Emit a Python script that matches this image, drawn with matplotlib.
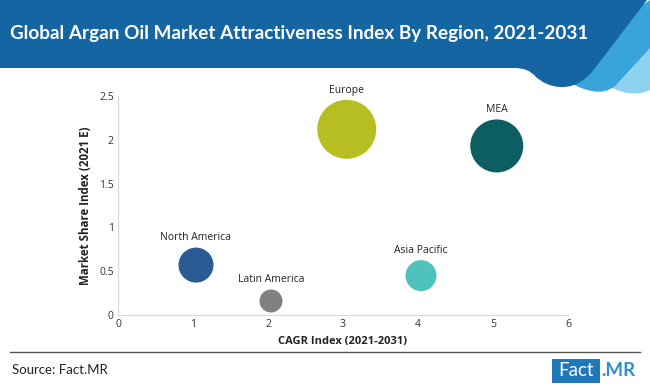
import matplotlib.pyplot as plt
from matplotlib.patches import Rectangle, PathPatch
from matplotlib.path import Path

regions = ['North America', 'Latin America', 'Europe', 'Asia Pacific', 'MEA']
cagr_index = [1.04, 2.04, 3.05, 4.04, 5.05]
share_index = [0.57, 0.16, 2.12, 0.45, 1.93]
bubble_size = [35, 23, 59, 31, 53]
colors = ['#2A5B94', '#808080', '#B6BE21', '#4FC2BD', '#0D5E62']

x_ticks = [0, 1, 2, 3, 4, 5, 6]
y_ticks = [0, 0.5, 1, 1.5, 2, 2.5]
y_tick_labels = ['0', '0.5', '1', '1.5', '2', '2.5']

plt.rcParams['font.family'] = ['Open Sans', 'DejaVu Sans']

W, H = 650, 389
fig = plt.figure(figsize=(W / 100, H / 100), dpi=100)


def shape(ax, pts, codes, color):
    ax.add_patch(PathPatch(Path(pts, codes), color=color, lw=0))


M, L, C, Z = Path.MOVETO, Path.LINETO, Path.CURVE3, Path.CLOSEPOLY

# header decoration, drawn in pixel coords
bg = fig.add_axes([0, 0, 1, 1])
bg.set_xlim(0, W)
bg.set_ylim(H, 0)
bg.axis('off')
shape(bg, [(600, 80), (650, 30), (650, 90), (640, 95), (627, 93), (616, 91), (608, 85), (600, 80)],
      [M, L, L, C, C, C, C, Z], '#8ED2F0')
shape(bg, [(560, 60), (650, 0), (650, 48), (615, 86), (605, 94), (592, 91), (580, 89), (570, 82), (560, 60)],
      [M, L, L, L, C, C, C, C, Z], '#38A4DA')
shape(bg, [(0, 0), (647, 0), (592, 72), (578, 88), (560, 87), (545, 86), (535, 76), (528, 68),
           (515, 68), (0, 68), (0, 0)],
      [M, L, L, C, C, C, C, C, C, L, Z], '#1565A3')
bg.text(10, 33, 'Global Argan Oil Market Attractiveness Index By Region, 2021-2031',
        color='white', fontsize=13.6, fontweight='bold', va='center', ha='left', family='Lato')
bg.plot([10, 640], [352, 352], color='#555555', lw=1)
bg.text(12, 370, 'Source: Fact.MR', fontsize=9.5, color='#222222', va='center', family='Lato')
bg.add_patch(Rectangle((552, 359), 48, 24, color='#1F78B8', lw=0))
bg.text(576, 371, 'Fact', color='white', fontsize=13.5, va='center', ha='center', family='Lato')
bg.text(601, 371, '.MR', color='#2E90CE', fontsize=13.5, fontweight='bold', va='center', ha='left',
        family='Lato')

ax = fig.add_axes([118 / W, 1 - 315 / H, 450 / W, 219 / H])
sizes = [(d * 0.72) ** 2 for d in bubble_size]
ax.scatter(cagr_index, share_index, s=sizes, c=colors, edgecolors='none', zorder=3)
for name, x, y, d in zip(regions, cagr_index, share_index, bubble_size):
    ax.annotate(name, (x, y), xytext=(0, d * 0.36 + 7), textcoords='offset points',
                ha='center', va='center', fontsize=7.5, color='#222222')

ax.set_xlim(0, 6)
ax.set_ylim(0, 2.5)
ax.set_xticks(x_ticks)
ax.set_yticks(y_ticks)
ax.set_yticklabels(y_tick_labels)
ax.tick_params(length=0, labelsize=7.5, labelcolor='#333333', pad=3)
for s in ['top', 'right']:
    ax.spines[s].set_visible(False)
for s in ['left', 'bottom']:
    ax.spines[s].set_color('#D9D9D9')
ax.set_xlabel('CAGR Index (2021-2031)', fontsize=8, fontweight='bold', color='#222222', labelpad=4)
ax.set_ylabel('Market Share Index (2021 E)', fontsize=8.3, fontweight='bold', color='#222222', labelpad=5)

fig.savefig('out.png', dpi=100)
